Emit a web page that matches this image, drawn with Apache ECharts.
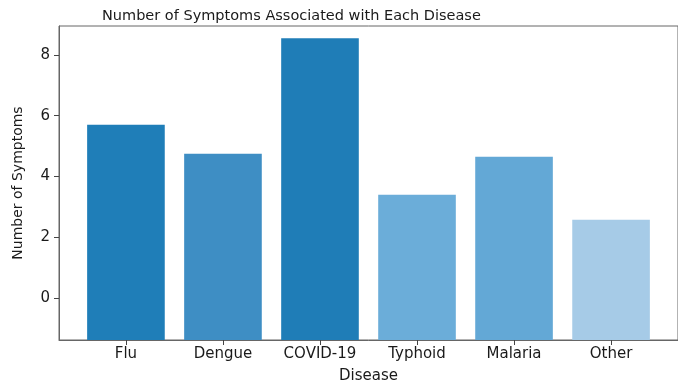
<!DOCTYPE html>
<html>
<head>
<meta charset="utf-8">
<script src="https://cdn.jsdelivr.net/npm/echarts@6/dist/echarts.min.js"></script>
<style>html,body{margin:0;padding:0;background:#fff;}#c{width:678px;height:389px;}</style>
</head>
<body>
<div id="c"></div>
<script>
const categories = ['Flu', 'Dengue', 'COVID-19', 'Typhoid', 'Malaria', 'Other'];
const symptomCounts = [5.7, 4.75, 8.55, 3.4, 4.65, 2.58];
const barColors = ['#1f7eb8', '#3e8ec4', '#1f7db7', '#6badd9', '#63a8d6', '#a6cbe7'];
const yTicks = [0, 2, 4, 6, 8];
const xTicks = [0, 1, 2, 3, 4, 5];
const Y_MIN = -1.38, Y_MAX = 8.95;
const X_MIN = -0.69, X_MAX = 5.69;
const BAR_W = 0.8;

const font = 'DejaVu Sans';
const chart = echarts.init(document.getElementById('c'), null, {renderer: 'canvas'});
chart.setOption({
  animation: false,
  backgroundColor: '#fff',
  title: {
    text: 'Number of Symptoms Associated with Each Disease',
    left: 97, top: 4,
    textStyle: {fontFamily: font, fontSize: 14.5, fontWeight: 'normal', color: '#1a1a1a'}
  },
  grid: {left: 59, right: 0, top: 26, bottom: 48, show: true, borderColor: '#666', borderWidth: 1, backgroundColor: 'transparent'},
  xAxis: {
    type: 'value', min: X_MIN, max: X_MAX,
    name: 'Disease', nameLocation: 'middle', nameGap: 29,
    nameTextStyle: {fontFamily: font, fontSize: 15, color: '#1a1a1a'},
    axisLine: {show: true, onZero: false, lineStyle: {color: '#666'}},
    axisTick: {show: true, length: 5, customValues: xTicks, lineStyle: {color: '#444'}},
    axisLabel: {customValues: xTicks, margin: 7, fontFamily: font, fontSize: 15, color: '#1a1a1a',
      formatter: v => categories[Math.round(v)] || ''},
    splitLine: {show: false}
  },
  yAxis: {
    type: 'value', min: Y_MIN, max: Y_MAX,
    name: 'Number of Symptoms', nameLocation: 'middle', nameGap: 34,
    nameTextStyle: {fontFamily: font, fontSize: 14, color: '#1a1a1a'},
    axisLine: {show: true, onZero: false, lineStyle: {color: '#666'}},
    axisTick: {show: true, length: 5, customValues: yTicks, lineStyle: {color: '#444'}},
    axisLabel: {customValues: yTicks, margin: 9, fontFamily: font, fontSize: 15, color: '#1a1a1a'},
    splitLine: {show: false}
  },
  series: [{
    type: 'custom',
    data: symptomCounts.map((v, i) => [i, v]),
    renderItem: (params, api) => {
      const x = api.value(0), v = api.value(1);
      const top = api.coord([x, v]);
      const bot = api.coord([x, Y_MIN]);
      const w = api.size([BAR_W, 0])[0];
      return {type: 'rect', shape: {x: top[0] - w / 2, y: top[1], width: w, height: bot[1] - top[1]},
        style: {fill: barColors[params.dataIndex]}};
    }
  }]
});
</script>
</body>
</html>
